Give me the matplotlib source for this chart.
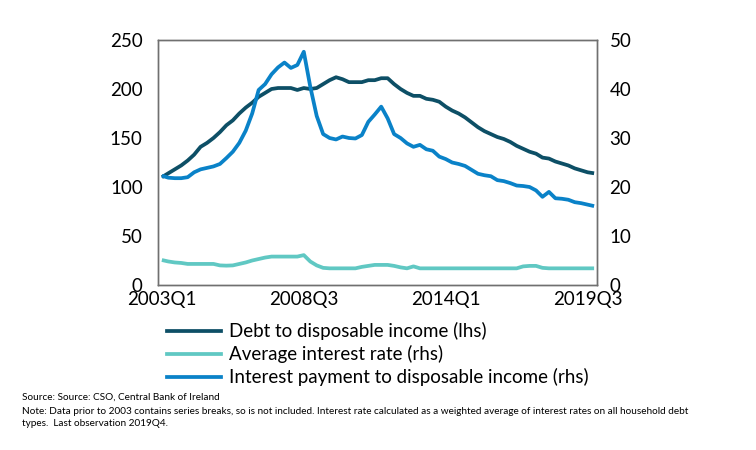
import matplotlib
matplotlib.use("Agg")
import matplotlib.pyplot as plt
from matplotlib.lines import Line2D

plt.rcParams['font.family'] = ['Lato', 'DejaVu Sans']

quarters = [f"{y}Q{q}" for y in range(2003, 2020) for q in range(1, 5)]
tick_labels = ["2003Q1", "2008Q3", "2014Q1", "2019Q3"]

debt_income = [110, 114, 118, 122, 127, 133, 141, 145, 150, 156,
               163, 168, 175, 181, 186, 192, 196, 200, 201, 201,
               201, 199, 201, 200, 201, 205, 209, 212, 210, 207,
               207, 207, 209, 209, 211, 211, 205, 200, 196, 193,
               193, 190, 189, 187, 182, 178, 175, 171, 166, 161,
               157, 154, 151, 149, 146, 142, 139, 136, 134, 130,
               129, 126, 124, 122, 119, 117, 115, 114]

avg_rate = [5.1, 4.8, 4.6, 4.5, 4.3, 4.3, 4.3, 4.3, 4.3, 4.0,
            3.95, 4.0, 4.3, 4.6, 5.0, 5.3, 5.6, 5.8, 5.8, 5.8,
            5.8, 5.8, 6.1, 4.8, 4.0, 3.5, 3.4, 3.4, 3.4, 3.4,
            3.4, 3.7, 3.9, 4.1, 4.1, 4.1, 3.9, 3.6, 3.4, 3.8,
            3.4, 3.4, 3.4, 3.4, 3.4, 3.4, 3.4, 3.4, 3.4, 3.4,
            3.4, 3.4, 3.4, 3.4, 3.4, 3.4, 3.8, 3.9, 3.9, 3.5,
            3.4, 3.4, 3.4, 3.4, 3.4, 3.4, 3.4, 3.4]

interest_payment = [22.3, 21.9, 21.8, 21.8, 22.0, 23.0, 23.6, 23.9, 24.2, 24.7,
                    25.9, 27.2, 29.0, 31.5, 35.0, 39.8, 41.0, 43.0, 44.4, 45.4,
                    44.3, 44.9, 47.6, 40.5, 34.5, 30.8, 30.0, 29.7, 30.3, 30.0,
                    29.9, 30.6, 33.3, 34.8, 36.4, 34.0, 30.8, 30.0, 28.9, 28.2,
                    28.6, 27.7, 27.4, 26.2, 25.7, 25.0, 24.7, 24.3, 23.5, 22.7,
                    22.4, 22.2, 21.4, 21.2, 20.8, 20.3, 20.2, 20.0, 19.3, 18.0,
                    19.0, 17.7, 17.6, 17.4, 16.9, 16.7, 16.4, 16.1]

labels = ["Debt to disposable income (lhs)",
          "Average interest rate (rhs)",
          "Interest payment to disposable income (rhs)"]
colors = ["#0d4f66", "#60c8c3", "#0a82c8"]

fig = plt.figure(figsize=(7.56, 4.5), dpi=100)
ax = fig.add_axes([158/756, 1-285/450, (597-158)/756, (285-40)/450])
ax2 = ax.twinx()

x = list(range(len(quarters)))
lw = 2.7
ax.plot(x, debt_income, color=colors[0], lw=lw, solid_capstyle='butt', zorder=3)
ax2.plot(x, avg_rate, color=colors[1], lw=lw, solid_capstyle='butt')
ax2.plot(x, interest_payment, color=colors[2], lw=lw, solid_capstyle='butt')

ax.set_xlim(-0.6, 67.45)
ax.set_ylim(0, 250)
ax2.set_ylim(0, 50)
ax.set_yticks(range(0, 251, 50))
ax2.set_yticks(range(0, 51, 10))
ticks = [quarters.index(t) for t in tick_labels]
ax.set_xticks(ticks)
ax.set_xticklabels(tick_labels)

fs = 13.5
for a in (ax, ax2):
    a.tick_params(length=0, labelsize=fs, colors='black')
    for s in a.spines.values():
        s.set_color('#707070')
        s.set_linewidth(1.0)
ax.tick_params(axis='y', pad=11)
ax2.tick_params(axis='y', pad=9)
ax.tick_params(axis='x', pad=4)

handles = [Line2D([0], [0], color=c, lw=lw) for c in colors]
fig.legend(handles, labels, loc='upper left', bbox_to_anchor=(167/756, 1-322/450),
           frameon=False, fontsize=fs, handlelength=2.9, handletextpad=0.4,
           labelspacing=0.27, borderaxespad=0, borderpad=0)

fig.text(22/756, 1-397/450, "Source: Source: CSO, Central Bank of Ireland",
         fontsize=7.2, va='center', ha='left')
fig.text(22/756, 1-411/450,
         "Note: Data prior to 2003 contains series breaks, so is not included. Interest rate calculated as a weighted average of interest rates on all household debt",
         fontsize=7.2, va='center', ha='left')
fig.text(22/756, 1-424/450, "types.  Last observation 2019Q4.",
         fontsize=7.2, va='center', ha='left')

fig.savefig("out.png", dpi=100)
